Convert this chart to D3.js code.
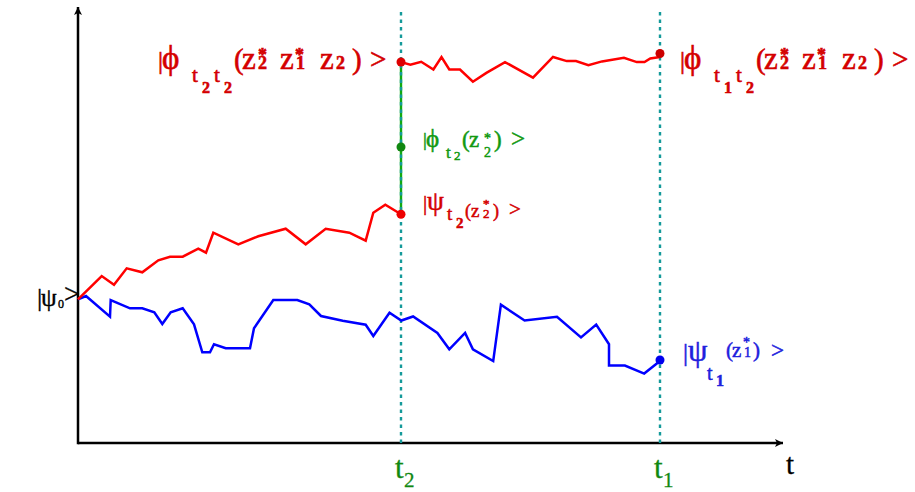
<!DOCTYPE html>
<html><head><meta charset="utf-8">
<script src="https://cdn.jsdelivr.net/npm/d3@7"></script>
<style>
body{margin:0;background:#fff}
svg text{font-family:"Liberation Serif","Times New Roman",serif}
</style>
</head><body>
<svg id="c" width="915" height="492"></svg>
<script>
// ---- data ----
const tickTimes = [32.3, 58.2];          // t2, t1
const tickNames = ["t", "t"];
const tickSubs  = ["2", "1"];

// red path |psi_t2(z2*)> from 0 to t2
const redLowT = [0, 2.37, 3.6, 4.87, 6.43, 8.03, 9.2, 10.47, 12.03, 12.8, 13.53, 16.03, 18.03, 20.77, 22.77, 24.77, 27.13, 28.77, 29.53, 30.73, 32.3];
const redLowY = [14.37, 16.7, 15.83, 17.47, 17.07, 18.27, 18.63, 18.63, 19.43, 19.03, 21.03, 19.87, 20.67, 21.43, 19.87, 21.43, 21.03, 20.23, 23.03, 23.83, 22.87];

// blue path |psi_t1(z1*)> from 0 to t1
const blueT = [0, 0.8, 3.2, 3.27, 5.2, 6.43, 7.63, 8.43, 9.27, 10.47, 11.6, 12.43, 13.2, 13.6, 14.77, 17.2, 17.6, 19.53, 21.93, 23.13, 24.3, 26.47, 28.77, 29.53, 31.15, 32.33, 33.51, 35.94, 37.13, 38.71, 39.49, 41.52, 42.29, 44.66, 47.9, 50.3, 51.82, 53.1, 53.1, 54.69, 56.62, 58.2];
const blueY = [14.37, 14.7, 12.63, 14.3, 13.47, 13.47, 13.07, 11.9, 13.07, 13.47, 11.87, 9.07, 9.07, 9.87, 9.47, 9.47, 11.47, 14.3, 14.3, 13.87, 12.7, 12.23, 11.83, 10.7, 13.02, 12.25, 12.65, 11.0, 9.37, 11.0, 9.37, 8.19, 13.83, 12.25, 12.62, 10.56, 11.84, 9.88, 7.75, 7.75, 6.94, 8.19];

// red path |phi_t1t2> from t2 to t1
const redTopT = [32.3, 33.24, 34.32, 35.54, 36.35, 37.13, 38.2, 39.49, 40.84, 42.7, 45.5, 47.5, 48.88, 49.8, 51.04, 52.4, 54.59, 55.88, 56.65, 57.23, 58.2];
const redTopY = [38.09, 37.82, 38.12, 37.35, 38.6, 37.35, 37.35, 36.13, 37.01, 38.09, 36.54, 38.6, 38.19, 38.19, 37.79, 38.16, 38.53, 38.09, 38.09, 38.46, 38.6];

// marked states
const dotT = [32.3, 32.3, 32.3, 58.2, 58.2];
const dotY = [22.87, 29.6, 38.1, 38.95, 8.3];
const dotC = ["#ee0000", "#118811", "#dd0000", "#cc0000", "#0000ee"];

// ---- scales ----
const x = d3.scaleLinear().domain([0, 70.5]).range([78, 783]);
const y = d3.scaleLinear().domain([0, 43.6]).range([443, 7]);
const svg = d3.select("#c");

const defs = svg.append("defs");
defs.append("marker").attr("id","arr").attr("viewBox","0 0 10 10").attr("refX",10).attr("refY",5)
  .attr("markerWidth",16).attr("markerHeight",8).attr("markerUnits","userSpaceOnUse").attr("orient","auto")
  .append("path").attr("d","M0,0 L10,5 L0,10 L2.5,5 Z").attr("fill","#000");

// axes
svg.append("line").attr("x1",x(0)).attr("y1",y(0)).attr("x2",x(70.5)).attr("y2",y(0))
  .attr("stroke","#000").attr("stroke-width",2.5).attr("marker-end","url(#arr)");
svg.append("line").attr("x1",x(0)).attr("y1",y(0)+1.2).attr("x2",x(0)).attr("y2",y(43.6))
  .attr("stroke","#000").attr("stroke-width",2.5).attr("marker-end","url(#arr)");

// green segment at t2
svg.append("line").attr("x1",x(tickTimes[0])).attr("x2",x(tickTimes[0]))
  .attr("y1",y(dotY[0])).attr("y2",y(dotY[2])).attr("stroke","#11aa11").attr("stroke-width",2.4);

// dotted verticals
tickTimes.forEach(t=>{
  svg.append("line").attr("x1",x(t)).attr("x2",x(t)).attr("y1",y(0)).attr("y2",y(43.3))
    .attr("stroke","#149a9a").attr("stroke-width",2.4).attr("stroke-dasharray","3.5,4");
});

const line = d3.line().x(d=>x(d[0])).y(d=>y(d[1]));
const path = (T,Y,c)=>svg.append("path").datum(T.map((t,i)=>[t,Y[i]])).attr("d",line)
  .attr("fill","none").attr("stroke",c).attr("stroke-width",2.5).attr("stroke-linejoin","miter");
path(blueT, blueY, "#0000ff");
path(redLowT, redLowY, "#ff0000");
path(redTopT, redTopY, "#ff0000");

dotT.forEach((t,i)=>svg.append("circle").attr("cx",x(t)).attr("cy",y(dotY[i])).attr("r",4.5).attr("fill",dotC[i]));

// rich text: segments [text, size, relX, relBaseline, bold]
// relX / relBaseline may be arrays (one per glyph) to stack glyphs
function rich(px, py, color, segs, heavy){
  const tx = svg.append("text").attr("fill",color);
  if (heavy) tx.attr("stroke",color).attr("stroke-width",heavy);
  segs.forEach(s=>{
    const xs = Array.isArray(s[2]) ? s[2].map(v=>px+v).join(" ") : px+s[2];
    const ys = Array.isArray(s[3]) ? s[3].map(v=>py+v).join(" ") : py+s[3];
    const sp = tx.append("tspan").text(s[0]).attr("font-size",s[1]).attr("x",xs).attr("y",ys);
    if (s[4]) sp.attr("font-weight","bold");
  });
  return tx;
}

const R = "#d40000";
const PHI = "\u03D5", PSI = "\u03C8";
// |phi t2t2(z2* z1* z2) >
function phiBig(px, a, b){
  return rich(px, 69, R, [
    ["|",25,0,0],[PHI,33,4,0],
    ["t",21,34,13],[a,16,44,24,true],["t",21,56,13],[b,16,66,24,true],
    ["(",29,76,0],["z",31,84,0],["*2",18,[100,100],[-8.5,0],true],
    ["z",31,122,0],["*1",18,[137,138],[-8.5,0],true],
    ["z",31,162,0],["2",18,178,0,true],[")",29,194,0],[">",29,212,0]
  ], 0.6);
}
phiBig(158, "2", "2");
phiBig(680, "1", "2");

// |phi_t2(z2*) >
rich(423, 147, "#119911", [
  ["|",19,0,-1],[PHI,25,3,0],["t",17,23,11],["2",13,31,13],
  ["(",23,39,0],["z",23,46,0],["*2",14,[61,61],[-4.5,10]],[")",23,71,0],[">",25,88,0]
], 0.5);
// |psi_t2(z2*) >
rich(423, 210, R, [
  ["|",21,0,0],[PSI,27,4,0],["t",19,24,10],["2",15,33,18,true],
  ["(",18,42,7],["z",19,48,7],["*2",13,[60,60],[-2,8]],[")",18,70,7],[">",21,86,6]
], 0.5);
// |psi_t1(z1*) >
rich(683, 361, "#2020dd", [
  ["|",25,0,0],[PSI,31,5,0],["t",20,24,19],["1",16,33,25,true],
  ["(",21,43,-4],["z",21,49,-4],["*1",14,[60,61],[-14.5,-4]],[")",21,70,-4],[">",23,88,-3]
], 0.5);
// |psi0>
rich(37, 306, "#000", [["|",26,0,0],[PSI,25,4,0],["0",12,21,2],[">",28,27,-3]], 0.4);

// tick labels
tickTimes.forEach((t,i)=>{
  rich(x(t)-6, 478, "#118811", [[tickNames[i],31,0,0],[tickSubs[i],21,9,9]], 0.3);
});
rich(x(70.5)+3, 474, "#000", [["t",29,0,0]], 0.3);
</script>
</body></html>
